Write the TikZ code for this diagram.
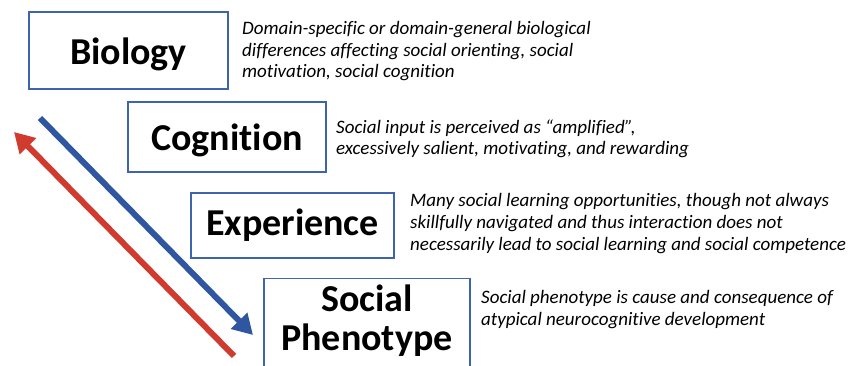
\documentclass[tikz,border=0pt]{standalone}
\usepackage{fontspec}
\setmainfont{Carlito}[Ligatures=NoCommon]
\usetikzlibrary{arrows.meta}
\definecolor{boxblue}{HTML}{3D64AE}
\definecolor{arrblue}{HTML}{2F56A0}
\definecolor{arrred}{HTML}{D13A2E}
\begin{document}
\begin{tikzpicture}[x=1pt,y=-1pt,
  stage/.style={draw=boxblue, line width=1.3pt, fill=white, inner sep=0pt,
    font=\bfseries\fontsize{38}{38.3}\selectfont, align=center},
  note/.style={inner sep=0pt, anchor=base west, align=left,
    font=\itshape\fontsize{19}{21.7}\selectfont},
  flow/.style={line width=6pt, -{Triangle[length=20pt,width=22pt]}}]
\useasboundingbox (0,0) rectangle (859,366);

% stage boxes (baseline of the last line = centre + (text height - text depth)/2)
\node[stage, minimum width=199pt, minimum height=77pt, text height=29pt, text depth=0pt]
  (bio) at (128.5,50.5) {Biology};
\node[stage, minimum width=198pt, minimum height=70pt, text height=28pt, text depth=0pt]
  (cog) at (227,137) {Cognition};
\node[stage, minimum width=203pt, minimum height=65pt, text height=26pt, text depth=7pt]
  (exp) at (292.5,225.5) {Experience};
\node[stage, minimum width=206pt, minimum height=88pt, text height=62pt, text depth=7pt]
  (soc) at (367,322.5) {Social\\Phenotype};

% descriptions, placed by the baseline of their last line
\node[note] (biotxt) at (242,78) {Domain-specific or domain-general biological\\
  differences affecting social orienting, social\\motivation, social cognition};
\node[note] (cogtxt) at (336,155) {Social input is perceived as “amplified”,\\
  excessively salient, motivating, and rewarding};
\node[note] (exptxt) at (410,250) {Many social learning opportunities, though not always\\
  skillfully navigated and thus interaction does not\\
  necessarily lead to social learning and social competence};
\node[note] (soctxt) at (481,325) {Social phenotype is cause and consequence of\\
  atypical neurocognitive development};

% top-down and bottom-up arrows
\coordinate (btop) at (40,118);
\coordinate (bend) at (253,335);
\coordinate (rbot) at (234,356);
\coordinate (rend) at (14,132);
\draw[flow, arrblue] (btop) -- (bend);
\draw[flow, arrred] (rbot) -- (rend);
\end{tikzpicture}
\end{document}
